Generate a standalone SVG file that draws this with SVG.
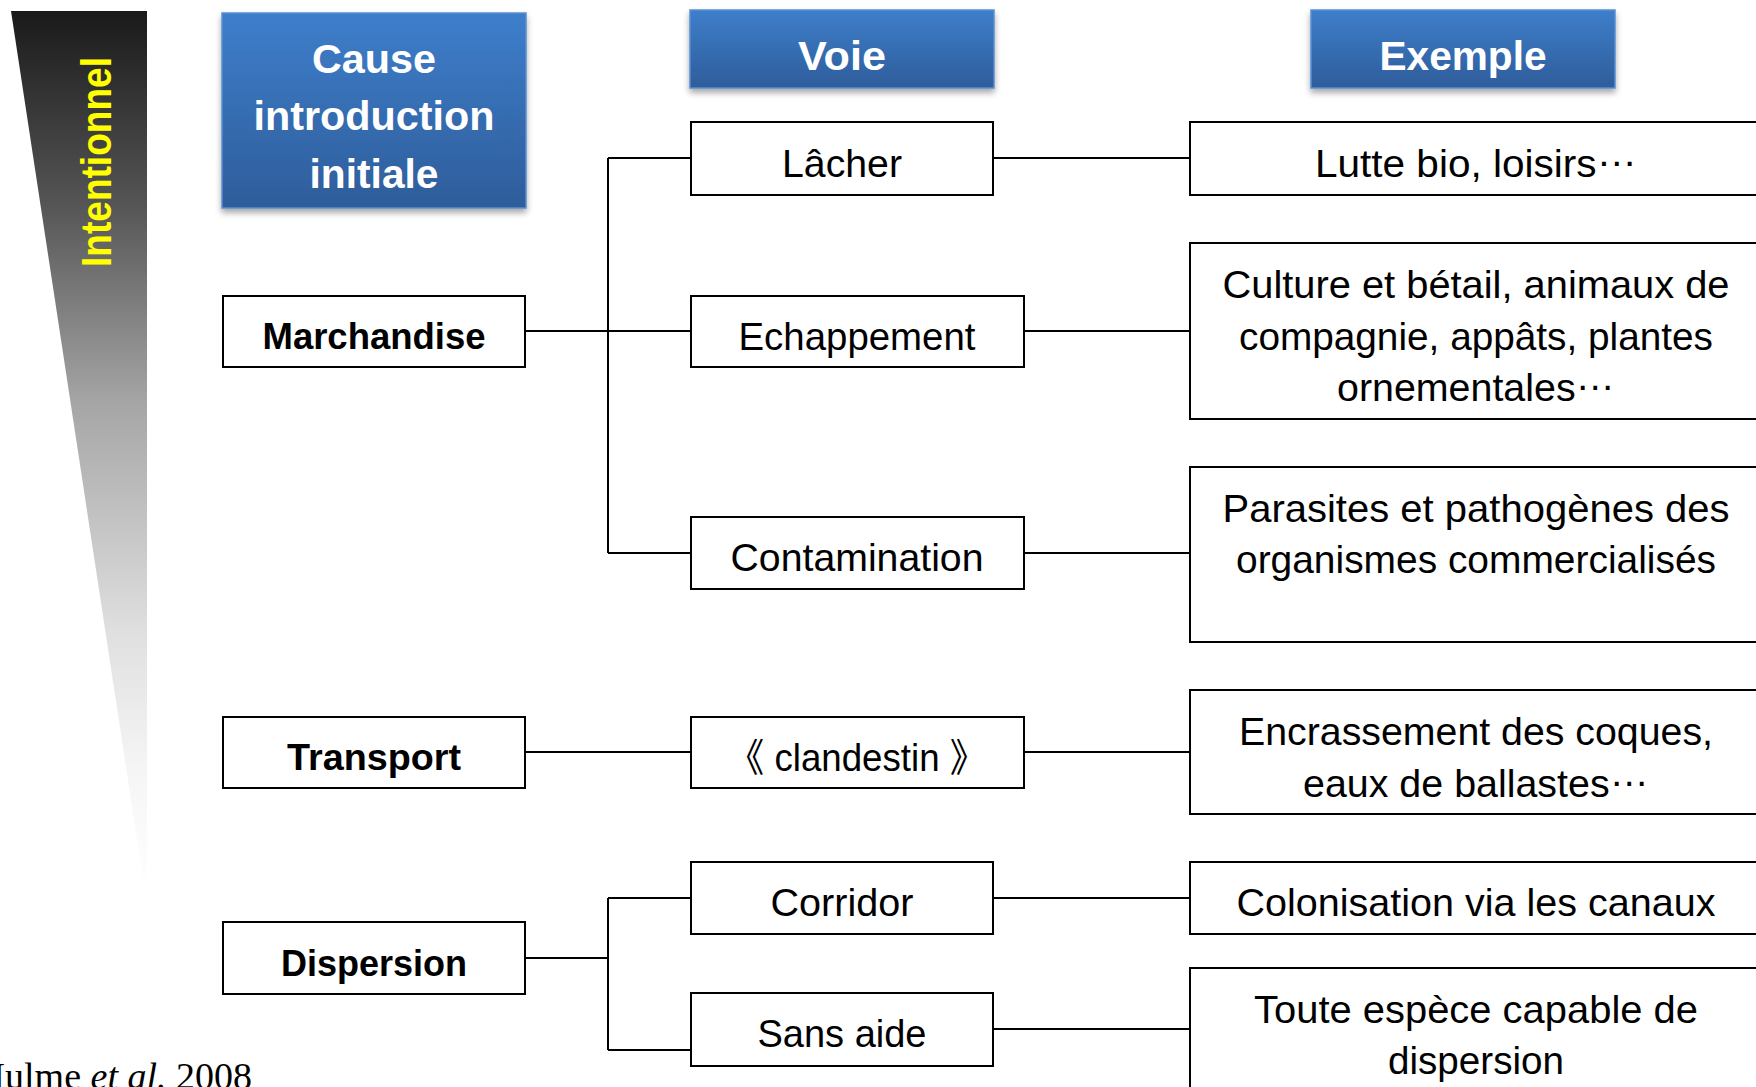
<svg xmlns="http://www.w3.org/2000/svg" width="1756" height="1087" viewBox="0 0 1756 1087">
<defs>
<linearGradient id="wedge" x1="0" y1="11" x2="0" y2="892" gradientUnits="userSpaceOnUse">
<stop offset="0" stop-color="#1a1a1a"/>
<stop offset="0.22" stop-color="#555555"/>
<stop offset="0.443" stop-color="#a5a5a5"/>
<stop offset="0.708" stop-color="#e0e0e0"/>
<stop offset="0.86" stop-color="#f5f5f5"/>
<stop offset="1" stop-color="#ffffff"/>
</linearGradient>
<linearGradient id="blue" x1="0" y1="0" x2="0" y2="1">
<stop offset="0" stop-color="#3e7ecb"/>
<stop offset="1" stop-color="#2e5d9a"/>
</linearGradient>
<filter id="shadow" x="-10%" y="-10%" width="120%" height="130%">
<feDropShadow dx="0" dy="4" stdDeviation="3" flood-color="#000" flood-opacity="0.35"/>
</filter>
<style>
.hdr{fill:url(#blue);stroke:#5a8fd2;stroke-width:1.5;filter:url(#shadow)}
.ht{font-family:"Liberation Sans",Arial,sans-serif;font-weight:bold;font-size:41px;fill:#ffffff;text-anchor:middle}
.box{fill:#ffffff;stroke:#000000;stroke-width:2}
.bt{font-family:"Liberation Sans",Arial,sans-serif;font-weight:bold;font-size:36px;fill:#000000;text-anchor:middle}
.t{font-family:"Liberation Sans","Noto Sans CJK JP",Arial,sans-serif;font-size:39px;fill:#000000;text-anchor:middle}
.con{fill:none;stroke:#000000;stroke-width:2}
</style>
</defs>
<rect width="1756" height="1087" fill="#ffffff"/>

<g id="wedge-intentionnel">
<polygon points="11,11 147,11 147,892 145,892" fill="url(#wedge)"/>
<text transform="translate(111,162) rotate(-90)" x="0" y="0" text-anchor="middle" font-family="'Liberation Sans',Arial,sans-serif" font-weight="bold" font-size="42" fill="#ffff00" textLength="210" lengthAdjust="spacingAndGlyphs">Intentionnel</text>
</g>

<g id="hdr-cause">
<rect class="hdr" x="222" y="13" width="304" height="195"/>
<text class="ht" x="374" y="73" textLength="124" lengthAdjust="spacingAndGlyphs">Cause</text>
<text class="ht" x="374" y="130" textLength="241" lengthAdjust="spacingAndGlyphs">introduction</text>
<text class="ht" x="374" y="188" textLength="129" lengthAdjust="spacingAndGlyphs">initiale</text>
</g>
<g id="hdr-voie">
<rect class="hdr" x="690" y="10" width="304" height="78"/>
<text class="ht" x="842" y="70" textLength="88" lengthAdjust="spacingAndGlyphs">Voie</text>
</g>
<g id="hdr-exemple">
<rect class="hdr" x="1311" y="10" width="304" height="78"/>
<text class="ht" x="1463" y="70" textLength="167" lengthAdjust="spacingAndGlyphs">Exemple</text>
</g>

<g id="connectors">
<path class="con" d="M525,331 H608"/>
<path class="con" d="M608,158 V553"/>
<path class="con" d="M608,158 H691"/>
<path class="con" d="M608,331 H691"/>
<path class="con" d="M608,553 H691"/>
<path class="con" d="M993,158 H1190"/>
<path class="con" d="M1024,331 H1190"/>
<path class="con" d="M1024,553 H1190"/>
<path class="con" d="M525,752 H691"/>
<path class="con" d="M1024,752 H1190"/>
<path class="con" d="M525,958 H608"/>
<path class="con" d="M608,898 V1050"/>
<path class="con" d="M608,898 H691"/>
<path class="con" d="M608,1050 H691"/>
<path class="con" d="M993,898 H1190"/>
<path class="con" d="M993,1029 H1190"/>
</g>

<g id="n-marchandise">
<rect class="box" x="223" y="296" width="302" height="71"/>
<text class="bt" x="374" y="349" textLength="223" lengthAdjust="spacingAndGlyphs">Marchandise</text>
</g>
<g id="n-transport">
<rect class="box" x="223" y="717" width="302" height="71"/>
<text class="bt" x="374" y="770" textLength="174" lengthAdjust="spacingAndGlyphs">Transport</text>
</g>
<g id="n-dispersion">
<rect class="box" x="223" y="922" width="302" height="72"/>
<text class="bt" x="374" y="976" textLength="186" lengthAdjust="spacingAndGlyphs">Dispersion</text>
</g>

<g id="n-lacher">
<rect class="box" x="691" y="122" width="302" height="73"/>
<text class="t" x="842" y="177" textLength="120" lengthAdjust="spacingAndGlyphs">Lâcher</text>
</g>
<g id="n-echappement">
<rect class="box" x="691" y="296" width="333" height="71"/>
<text class="t" x="857" y="350" textLength="237" lengthAdjust="spacingAndGlyphs">Echappement</text>
</g>
<g id="n-contamination">
<rect class="box" x="691" y="517" width="333" height="72"/>
<text class="t" x="857" y="571" textLength="253" lengthAdjust="spacingAndGlyphs">Contamination</text>
</g>
<g id="n-clandestin">
<rect class="box" x="691" y="717" width="333" height="71"/>
<text class="t" x="857" y="771" textLength="259" lengthAdjust="spacingAndGlyphs">《 clandestin 》</text>
</g>
<g id="n-corridor">
<rect class="box" x="691" y="862" width="302" height="72"/>
<text class="t" x="842" y="916" textLength="143" lengthAdjust="spacingAndGlyphs">Corridor</text>
</g>
<g id="n-sansaide">
<rect class="box" x="691" y="993" width="302" height="73"/>
<text class="t" x="842" y="1047" textLength="169" lengthAdjust="spacingAndGlyphs">Sans aide</text>
</g>

<g id="n-lutte">
<rect class="box" x="1190" y="122" width="580" height="73"/>
<text class="t" x="1476" y="177" textLength="322" lengthAdjust="spacingAndGlyphs">Lutte bio, loisirs<tspan dy="-11">…</tspan></text>
</g>
<g id="n-culture">
<rect class="box" x="1190" y="243" width="580" height="176"/>
<text class="t" x="1476" y="298" textLength="507" lengthAdjust="spacingAndGlyphs">Culture et bétail, animaux de</text>
<text class="t" x="1476" y="350" textLength="474" lengthAdjust="spacingAndGlyphs">compagnie, appâts, plantes</text>
<text class="t" x="1476" y="401" textLength="278" lengthAdjust="spacingAndGlyphs">ornementales<tspan dy="-11">…</tspan></text>
</g>
<g id="n-parasites">
<rect class="box" x="1190" y="467" width="580" height="175"/>
<text class="t" x="1476" y="522" textLength="507" lengthAdjust="spacingAndGlyphs">Parasites et pathogènes des</text>
<text class="t" x="1476" y="573" textLength="480" lengthAdjust="spacingAndGlyphs">organismes commercialisés</text>
</g>
<g id="n-encrassement">
<rect class="box" x="1190" y="690" width="580" height="124"/>
<text class="t" x="1476" y="745" textLength="474" lengthAdjust="spacingAndGlyphs">Encrassement des coques,</text>
<text class="t" x="1476" y="797" textLength="346" lengthAdjust="spacingAndGlyphs">eaux de ballastes<tspan dy="-11">…</tspan></text>
</g>
<g id="n-colonisation">
<rect class="box" x="1190" y="862" width="580" height="72"/>
<text class="t" x="1476" y="916" textLength="479" lengthAdjust="spacingAndGlyphs">Colonisation via les canaux</text>
</g>
<g id="n-toute">
<rect class="box" x="1190" y="968" width="580" height="140"/>
<text class="t" x="1476" y="1023" textLength="444" lengthAdjust="spacingAndGlyphs">Toute espèce capable de</text>
<text class="t" x="1476" y="1074" textLength="176" lengthAdjust="spacingAndGlyphs">dispersion</text>
</g>

<g id="citation">
<text x="252" y="1089" text-anchor="end" font-family="'Liberation Serif','Times New Roman',serif" font-size="38" fill="#000000">Hulme <tspan font-style="italic">et al.</tspan> 2008</text>
</g>
</svg>
